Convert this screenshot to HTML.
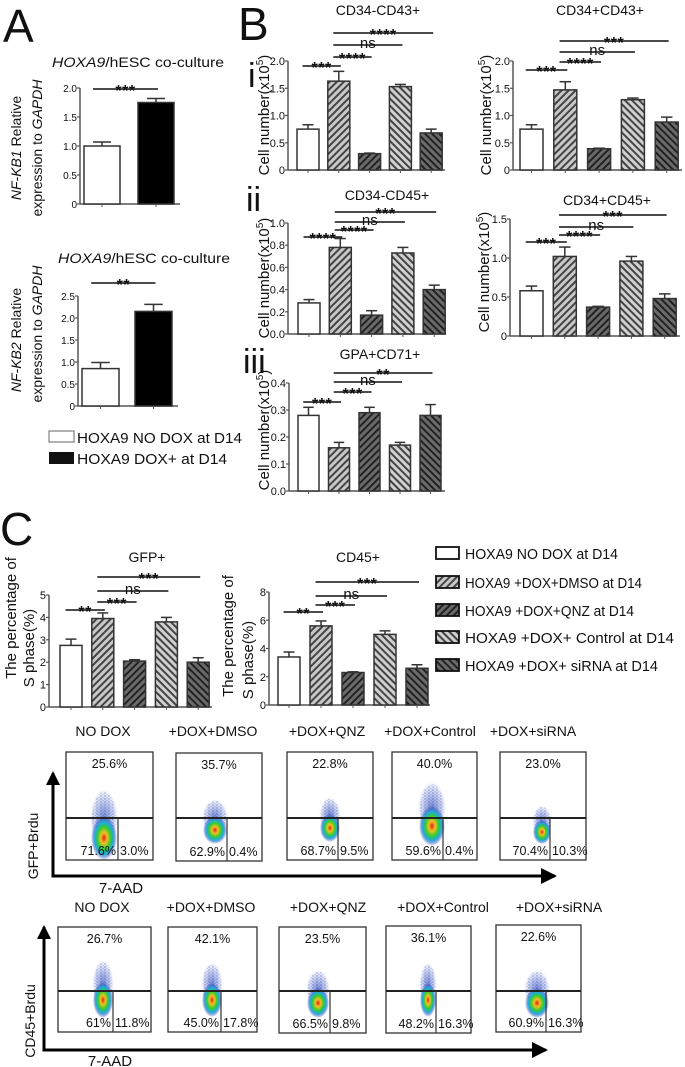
<!DOCTYPE html>
<html><head><meta charset="utf-8"><style>
html,body{margin:0;padding:0;background:#fff;}
svg{display:block;font-family:"Liberation Sans",sans-serif;}
</style></head><body>
<svg id="fig" width="685" height="1067" viewBox="0 0 685 1067" xmlns="http://www.w3.org/2000/svg">
<defs>
<pattern id="pDMSO" patternUnits="userSpaceOnUse" width="5" height="5" patternTransform="rotate(45)"><rect width="5" height="5" fill="#c8c8c8"/><rect width="2" height="5" fill="#444"/></pattern>
<pattern id="pQNZ" patternUnits="userSpaceOnUse" width="5" height="5" patternTransform="rotate(45)"><rect width="5" height="5" fill="#6a6a6a"/><rect width="2" height="5" fill="#222"/></pattern>
<pattern id="pCtrl" patternUnits="userSpaceOnUse" width="5" height="5" patternTransform="rotate(-45)"><rect width="5" height="5" fill="#d0d0d0"/><rect width="2" height="5" fill="#444"/></pattern>
<pattern id="pSi" patternUnits="userSpaceOnUse" width="5" height="5" patternTransform="rotate(-45)"><rect width="5" height="5" fill="#6a6a6a"/><rect width="2" height="5" fill="#222"/></pattern>
<radialGradient id="heat"><stop offset="0" stop-color="#d22"/><stop offset="0.25" stop-color="#f5c020"/><stop offset="0.5" stop-color="#3c3"/><stop offset="0.72" stop-color="#2ad"/><stop offset="1" stop-color="#22a" stop-opacity="0"/></radialGradient>
<radialGradient id="tail"><stop offset="0" stop-color="#3050c0" stop-opacity="0.7"/><stop offset="1" stop-color="#3050c0" stop-opacity="0"/></radialGradient>
<pattern id="dots" patternUnits="userSpaceOnUse" width="4" height="3"><rect width="4" height="3" fill="#fff" fill-opacity="0"/><circle cx="1" cy="1" r="0.7" fill="#1a2a9a"/><circle cx="3" cy="2.5" r="0.5" fill="#4060d0"/></pattern>
</defs>
<g id="root"></g>
</svg>
<script>
// ---------- Panel A data ----------
const aCategories = ['HOXA9 NO DOX at D14','HOXA9 DOX+ at D14'];
const a1Values = [1.0, 1.75];
const a1Errors = [0.07, 0.07];
const a1Ticks = [0, 0.5, 1.0, 1.5, 2.0];
const a1TickLabels = ['0','0.5','1.0','1.5','2.0'];
const a1SigFrom = [0]; const a1SigTo = [1]; const a1SigLabels = ['***'];
const a2Values = [0.85, 2.15];
const a2Errors = [0.14, 0.16];
const a2Ticks = [0, 0.5, 1.0, 1.5, 2.0, 2.5];
const a2TickLabels = ['0','0.5','1.0','1.5','2.0','2.5'];
const a2SigFrom = [0]; const a2SigTo = [1]; const a2SigLabels = ['**'];
// ---------- Panel B data ----------
const groups = ['NO DOX','+DOX+DMSO','+DOX+QNZ','+DOX+Control','+DOX+siRNA'];
const b1Values = [0.75, 1.63, 0.30, 1.53, 0.68];
const b1Errors = [0.08, 0.18, 0.01, 0.04, 0.07];
const b2Values = [0.75, 1.47, 0.39, 1.29, 0.88];
const b2Errors = [0.08, 0.15, 0.01, 0.03, 0.09];
const bTicks = [0, 0.5, 1.0, 1.5, 2.0];
const bTickLabels = ['0','0.5','1.0','1.5','2.0'];
const b3Values = [0.28, 0.78, 0.17, 0.73, 0.40];
const b3Errors = [0.03, 0.08, 0.04, 0.05, 0.04];
const b3Ticks = [0, 0.2, 0.4, 0.6, 0.8, 1.0];
const b3TickLabels = ['0.0','0.2','0.4','0.6','0.8','1.0'];
const b4Values = [0.58, 1.02, 0.37, 0.96, 0.48];
const b4Errors = [0.06, 0.12, 0.01, 0.06, 0.06];
const b4Ticks = [0, 0.5, 1.0, 1.5];
const b4TickLabels = ['0','0.5','1.0','1.5'];
const b5Values = [0.28, 0.16, 0.29, 0.17, 0.28];
const b5Errors = [0.03, 0.02, 0.02, 0.01, 0.04];
const b5Ticks = [0, 0.1, 0.2, 0.3, 0.4];
const b5TickLabels = ['0.0','0.1','0.2','0.3','0.4'];
const sigFrom5 = [0, 1, 1, 1]; const sigTo5 = [1, 2, 3, 4];
const b1SigLabels = ['***','****','ns','****'];
const b2SigLabels = ['***','****','ns','***'];
const b3SigLabels = ['****','****','ns','***'];
const b4SigLabels = ['***','****','ns','***'];
const b5SigLabels = ['***','***','ns','**'];
// ---------- Panel C data ----------
const c1Values = [2.75, 3.95, 2.05, 3.8, 2.0];
const c1Errors = [0.28, 0.25, 0.06, 0.2, 0.2];
const c1Ticks = [0,1,2,3,4,5];
const c1TickLabels = ['0','1','2','3','4','5'];
const c1SigLabels = ['**','***','ns','***'];
const c2Values = [3.4, 5.6, 2.3, 5.0, 2.6];
const c2Errors = [0.35, 0.35, 0.05, 0.25, 0.25];
const c2Ticks = [0,2,4,6,8];
const c2TickLabels = ['0','2','4','6','8'];
const c2SigLabels = ['**','***','ns','***'];
const flowTopPct1 = ['25.6%','35.7%','22.8%','40.0%','23.0%'];
const flowLeftPct1 = ['71.6%','62.9%','68.7%','59.6%','70.4%'];
const flowRightPct1 = ['3.0%','0.4%','9.5%','0.4%','10.3%'];
const flowTopPct2 = ['26.7%','42.1%','23.5%','36.1%','22.6%'];
const flowLeftPct2 = ['61%','45.0%','66.5%','48.2%','60.9%'];
const flowRightPct2 = ['11.8%','17.8%','9.8%','16.3%','16.3%'];

const NS='http://www.w3.org/2000/svg';
const root=document.getElementById('root');
function mk(tag, attrs, parent, text){
  const e=document.createElementNS(NS,tag);
  for(const k in attrs) e.setAttribute(k,attrs[k]);
  if(text!==undefined) e.textContent=text;
  (parent||root).appendChild(e);
  return e;
}
const fills5=['#fff','url(#pDMSO)','url(#pQNZ)','url(#pCtrl)','url(#pSi)'];
const fills2=['#fff','#000'];

function barChart(cfg, values, errors, ticks, tickLabels, sigF, sigT, sigL){
  const g=mk('g',{});
  
  
  const ymax=ticks[ticks.length-1];
  const y=v=>cfg.y0-v/ymax*(cfg.y0-cfg.yTop);
  const bx=i=>cfg.first+i*cfg.step;
  const bc=i=>bx(i)+cfg.w/2;
  const ax=mk('line',{x1:cfg.ax,y1:cfg.y0,x2:cfg.ax,y2:cfg.yTop,stroke:'#555','stroke-width':1.5},g);
  
  
  ticks.forEach((t,i)=>{
    mk('line',{x1:cfg.ax-3,y1:y(t),x2:cfg.ax,y2:y(t),stroke:'#555','stroke-width':1.2},g);
    const tl=mk('text',{x:cfg.ax-3,y:y(t)+4,'font-size':cfg.tfs||11,'text-anchor':'end',fill:'#111'},g,tickLabels[i]);
    
    
  });
  const xa=mk('line',{x1:cfg.ax,y1:cfg.y0,x2:cfg.xEnd,y2:cfg.y0,stroke:'#555','stroke-width':1.5},g);
  
  
  values.forEach((v,i)=>{
    const fill=(cfg.fills||fills5)[i];
    const top=y(v+errors[i]);
    mk('line',{x1:bc(i),y1:y(v),x2:bc(i),y2:top,stroke:'#333','stroke-width':1.5},g);
    mk('line',{x1:bc(i)-cfg.w/4,y1:top,x2:bc(i)+cfg.w/4,y2:top,stroke:'#333','stroke-width':1.5},g);
    const r=mk('rect',{x:bx(i),y:y(v),width:cfg.w,height:cfg.y0-y(v),fill:fill,stroke:'#333','stroke-width':1.5},g);
    
    
    mk('line',{x1:bc(i),y1:cfg.y0,x2:bc(i),y2:cfg.y0+3,stroke:'#555','stroke-width':1},g);
  });
  sigF.forEach((f,k)=>{
    const ly=cfg.sigY[k];
    const x1=bc(f)-cfg.w/4, x2=bc(sigT[k])+2;
    mk('line',{x1:x1,y1:ly,x2:x2,y2:ly,stroke:'#111','stroke-width':1.4},g);
    const isNs=sigL[k]==='ns';
    const st=mk('text',{x:(x1+x2)/2,y:isNs?ly+3:ly+7,'font-size':isNs?15:16,'font-weight':isNs?'normal':'bold','text-anchor':'middle',fill:'#111','letter-spacing':isNs?0:0.5},g,sigL[k]);
    
    
  });
  if(cfg.title){
    const tt=mk('text',{x:cfg.tx,y:cfg.ty,'font-size':14,'text-anchor':'middle',fill:'#111'},g,cfg.title);
    
    
  }
  return g;
}

// Panel A
barChart({name:'nfkb1-chart',ax:80,y0:204,yTop:88,first:84,step:54,w:36,xEnd:180,fills:fills2,sigY:[89],tfs:10},
  a1Values,a1Errors,a1Ticks,a1TickLabels,a1SigFrom,a1SigTo,a1SigLabels);
barChart({name:'nfkb2-chart',ax:78,y0:406,yTop:296,first:82,step:53,w:37,xEnd:178,fills:fills2,sigY:[283],tfs:10},
  a2Values,a2Errors,a2Ticks,a2TickLabels,a2SigFrom,a2SigTo,a2SigLabels);
// Panel B
barChart({name:'cd34neg-cd43pos-chart',ax:288,y0:170,yTop:61,first:297,step:30.8,w:22,xEnd:445,sigY:[66,57,45,33],title:'CD34-CD43+',tx:378,ty:15},
  b1Values,b1Errors,bTicks,bTickLabels,sigFrom5,sigTo5,b1SigLabels);
barChart({name:'cd34pos-cd43pos-chart',ax:513,y0:170,yTop:61,first:520,step:33.8,w:23,xEnd:682,sigY:[70,62,52,41],title:'CD34+CD43+',tx:600,ty:15},
  b2Values,b2Errors,bTicks,bTickLabels,sigFrom5,sigTo5,b2SigLabels);
barChart({name:'cd34neg-cd45pos-chart',ax:288,y0:334,yTop:223,first:298,step:31.3,w:22,xEnd:446,sigY:[237,230,222,212],title:'CD34-CD45+',tx:387,ty:200},
  b3Values,b3Errors,b3Ticks,b3TickLabels,sigFrom5,sigTo5,b3SigLabels);
barChart({name:'cd34pos-cd45pos-chart',ax:510,y0:336,yTop:219,first:520,step:33.3,w:23,xEnd:680,sigY:[242,235,227,215],title:'CD34+CD45+',tx:607,ty:205},
  b4Values,b4Errors,b4Ticks,b4TickLabels,sigFrom5,sigTo5,b4SigLabels);
barChart({name:'gpa-cd71-chart',ax:289,y0:491,yTop:383,first:298,step:30.5,w:21,xEnd:445,sigY:[402,392,382,373],title:'GPA+CD71+',tx:380,ty:359},
  b5Values,b5Errors,b5Ticks,b5TickLabels,sigFrom5,sigTo5,b5SigLabels);
// Panel C
barChart({name:'gfp-sphase-chart',ax:49,y0:707,yTop:595,first:60,step:31.8,w:22,xEnd:212,sigY:[610,602,591,577],title:'GFP+',tx:147,ty:562},
  c1Values,c1Errors,c1Ticks,c1TickLabels,sigFrom5,sigTo5,c1SigLabels);
barChart({name:'cd45-sphase-chart',ax:269,y0:705,yTop:592,first:278,step:32,w:22,xEnd:430,sigY:[612,605,596,582],title:'CD45+',tx:358,ty:562},
  c2Values,c2Errors,c2Ticks,c2TickLabels,sigFrom5,sigTo5,c2SigLabels);

// Flow plots
function flowRow(boxes, gateY, tops, lefts, rights, rowName, blobs){
  boxes.forEach((b,i)=>{
    const g=mk('g',{});
    
    
    const bl=blobs[i];
    mk('ellipse',{cx:bl[0],cy:bl[1]-bl[3]*0.9,rx:bl[2]*1.1,ry:bl[3]*1.3,fill:'url(#tail)'},g);
    mk('ellipse',{cx:bl[0],cy:bl[1]-bl[3]*0.9,rx:bl[2]*0.9,ry:bl[3]*1.2,fill:'url(#dots)',opacity:0.45},g);
    mk('ellipse',{cx:bl[0],cy:bl[1],rx:bl[2],ry:bl[3],fill:'url(#heat)'},g);
    mk('rect',{x:b[0],y:b[1],width:b[2],height:b[3],fill:'none',stroke:'#333','stroke-width':1.3},g);
    mk('line',{x1:b[0],y1:gateY,x2:b[0]+b[2],y2:gateY,stroke:'#222','stroke-width':2},g);
    mk('line',{x1:b[4],y1:gateY,x2:b[4],y2:b[1]+b[3],stroke:'#333','stroke-width':1.2},g);
    const t1=mk('text',{x:b[0]+b[2]/2,y:b[1]+16,'font-size':12.5,'text-anchor':'middle',fill:'#111'},g,tops[i]);
    
    
    const t2=mk('text',{x:b[4]-2,y:b[1]+b[3]-5,'font-size':12.5,'text-anchor':'end',fill:'#111'},g,lefts[i]);
    
    
    const t3=mk('text',{x:b[4]+2,y:b[1]+b[3]-5,'font-size':12.5,fill:'#111'},g,rights[i]);
    
    
  });
}
flowRow([[66,752,87,108,118],[176,753,86,108,227],[287,752,86,108,338],[392,752,85,108,443],[500,752,86,108,550]],
  818,flowTopPct1,flowLeftPct1,flowRightPct1,'gfp-brdu',
  [[104,838,13,22],[215,830,12,14],[330,828,10,14],[432,826,13,20],[542,832,9,12]]);
flowRow([[58,927,93,105,113],[168,927,89,105,221],[279,927,87,106,330],[386,926,85,107,436],[496,925,85,107,546]],
  991,flowTopPct2,flowLeftPct2,flowRightPct2,'cd45-brdu',
  [[103,1000,10,18],[212,1000,10,17],[318,1003,11,15],[428,1000,8,17],[537,1003,12,15]]);

const row1Centers=[103,213,327,430,533];
const row2Centers=[102,211,328,443,559];
groups.forEach((gname,i)=>{
  const t=mk('text',{x:row1Centers[i],y:736,'font-size':14,'text-anchor':'middle',fill:'#111'},root,gname);
  
  
  const t2=mk('text',{x:row2Centers[i],y:912,'font-size':14,'text-anchor':'middle',fill:'#111'},root,gname);
  
  
});

const legC=['HOXA9 NO DOX at D14','HOXA9 +DOX+DMSO at D14','HOXA9 +DOX+QNZ at D14','HOXA9 +DOX+ Control at D14','HOXA9 +DOX+ siRNA at D14'];
const legCY=[553,582,610,637,665];
legC.forEach((s,i)=>{
  const g=mk('g',{});
  
  
  mk('rect',{x:436,y:legCY[i]-6,width:23,height:12,fill:fills5[i],stroke:'#111','stroke-width':1.8},g);
  mk('text',{x:465,y:legCY[i]+6,'font-size':15,fill:'#111',textLength:Math.round(s.length*8.05),lengthAdjust:'spacingAndGlyphs'},g,s);
});
</script>
<script>
(function(){
const NS='http://www.w3.org/2000/svg';
const root=document.getElementById('root');
function t(x,y,size,str,name,extra){
  const e=document.createElementNS(NS,'text');
  e.setAttribute('x',x);e.setAttribute('y',y);e.setAttribute('font-size',size);e.setAttribute('fill','#111');
  if(extra) for(const k in extra) e.setAttribute(k,extra[k]);
  e.innerHTML=str;
  
  
  root.appendChild(e);return e;
}
t(3,42,46,'A','panel-label-a');
t(238,40,46,'B','panel-label-b');
t(0,545,46,'C','panel-label-c');
t(248,87,34,'i','row-label-i');
t(246,211,34,'ii','row-label-ii');
t(243,373,34,'iii','row-label-iii');
t(52,67,14,'<tspan font-style="italic">HOXA9</tspan>/hESC co-culture','nfkb1-chart-title',{textLength:172,lengthAdjust:'spacingAndGlyphs'});
t(58,263,14,'<tspan font-style="italic">HOXA9</tspan>/hESC co-culture','nfkb2-chart-title',{textLength:172,lengthAdjust:'spacingAndGlyphs'});
t(21,148,14,'<tspan font-style="italic">NF-KB1</tspan> Relative','nfkb1-y-label-line1',{'text-anchor':'middle',transform:'rotate(-90 21 148)'});
t(42,148,14,'expression  to <tspan font-style="italic">GAPDH</tspan>','nfkb1-y-label-line2',{'text-anchor':'middle',transform:'rotate(-90 42 148)'});
t(21,340,14,'<tspan font-style="italic">NF-KB2</tspan> Relative','nfkb2-y-label-line1',{'text-anchor':'middle',transform:'rotate(-90 21 340)'});
t(42,334,14,'expression  to <tspan font-style="italic">GAPDH</tspan>','nfkb2-y-label-line2',{'text-anchor':'middle',transform:'rotate(-90 42 334)'});
const cn='Cell number(x10<tspan font-size="10" dy="-6">5</tspan><tspan dy="6">)</tspan>';
t(269,115,15,cn,'y-axis-title',{'text-anchor':'middle',transform:'rotate(-90 269 115)'});
t(491,115,15,cn,'y-axis-title',{'text-anchor':'middle',transform:'rotate(-90 491 115)'});
t(269,278,15,cn,'y-axis-title',{'text-anchor':'middle',transform:'rotate(-90 269 278)'});
t(489,272,15,cn,'y-axis-title',{'text-anchor':'middle',transform:'rotate(-90 489 272)'});
t(269,430,15,cn,'y-axis-title',{'text-anchor':'middle',transform:'rotate(-90 269 430)'});
t(16,618,15,'The percentage of','y-axis-title',{'text-anchor':'middle',transform:'rotate(-90 16 618)'});
t(34,648,15,'S phase(%)','y-axis-title',{'text-anchor':'middle',transform:'rotate(-90 34 648)'});
t(233,636,15,'The percentage of','y-axis-title',{'text-anchor':'middle',transform:'rotate(-90 233 636)'});
t(253,660,15,'S phase(%)','y-axis-title',{'text-anchor':'middle',transform:'rotate(-90 253 660)'});
const r1=document.createElementNS(NS,'rect');
r1.setAttribute('x',49);r1.setAttribute('y',431);r1.setAttribute('width',25);r1.setAttribute('height',11);r1.setAttribute('fill','#fff');r1.setAttribute('stroke','#666');


root.appendChild(r1);
const r2=document.createElementNS(NS,'rect');
r2.setAttribute('x',49);r2.setAttribute('y',452);r2.setAttribute('width',25);r2.setAttribute('height',12);r2.setAttribute('fill','#111');


root.appendChild(r2);
t(77,443,15,'HOXA9 NO DOX at D14','legend-entry',{textLength:165,lengthAdjust:'spacingAndGlyphs'});
t(77,464,15,'HOXA9 DOX+ at D14','legend-entry',{textLength:150,lengthAdjust:'spacingAndGlyphs'});
function arrow(x1,y1,x2,y2,name){
  const g=document.createElementNS(NS,'g');
  
  
  const l=document.createElementNS(NS,'path');
  l.setAttribute('d',`M${x1} ${y1} V${y2} H${x2}`);
  l.setAttribute('fill','none');l.setAttribute('stroke','#000');l.setAttribute('stroke-width',3);
  g.appendChild(l);
  const a=document.createElementNS(NS,'path');
  a.setAttribute('d',`M${x1-7} ${y1+12} L${x1} ${y1-2} L${x1+7} ${y1+12}Z M${x2-14} ${y2-8} L${x2+2} ${y2} L${x2-14} ${y2+8}Z`);
  a.setAttribute('fill','#000');
  g.appendChild(a);
  root.appendChild(g);
}
arrow(53,773,555,876,'gfp-brdu-axes-arrows');
arrow(44,927,546,1050,'cd45-brdu-axes-arrows');
t(34,842,14,'GFP+Brdu','y-axis-title',{'text-anchor':'middle',transform:'rotate(-90 38 842)'});
t(31,1017,14,'CD45+Brdu','y-axis-title',{'text-anchor':'middle',transform:'rotate(-90 35 1017)'});
t(121,893,15,'7-AAD','x-axis-title',{'text-anchor':'middle'});
t(110,1066,15,'7-AAD','x-axis-title',{'text-anchor':'middle'});
})();
</script>
</body></html>
